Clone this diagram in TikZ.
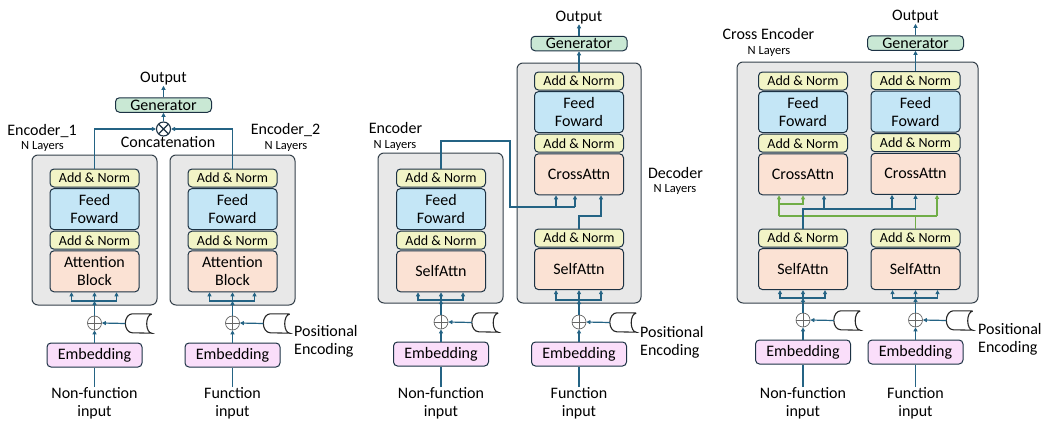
\documentclass[tikz,border=0pt]{standalone}
\usepackage{fontspec}
\setmainfont{Carlito}
\usetikzlibrary{positioning,arrows.meta}

\definecolor{linkblue}{RGB}{36,99,132}
\definecolor{edge}{RGB}{28,50,68}
\definecolor{layeredge}{RGB}{52,64,74}
\definecolor{layergray}{RGB}{232,232,232}
\definecolor{normyellow}{RGB}{242,244,198}
\definecolor{ffblue}{RGB}{196,230,246}
\definecolor{attnpeach}{RGB}{251,226,212}
\definecolor{embpink}{RGB}{250,222,250}
\definecolor{gengreen}{RGB}{201,232,212}
\definecolor{crossgreen}{RGB}{112,173,71}

\tikzset{
blk/.style={draw=edge, line width=1pt, rounded corners=4pt, minimum width=89pt, inner sep=0pt, align=center, font=\fontsize{16}{18}\selectfont},
addnorm/.style={blk, fill=normyellow, minimum height=18pt, font=\fontsize{14}{15}\selectfont},
ff/.style={blk, fill=ffblue, minimum height=41pt},
attn/.style={blk, fill=attnpeach, minimum height=41pt},
embed/.style={blk, fill=embpink, minimum width=95pt, minimum height=24pt},
gen/.style={blk, fill=gengreen, minimum width=96pt, minimum height=14.5pt},
layers/.style={draw=layeredge, line width=1pt, fill=layergray, rounded corners=6pt, inner sep=0pt},
addop/.style={circle, draw=black!60, line width=0.7pt, fill=white, minimum size=14pt, inner sep=0pt,
  path picture={\draw[black!60, line width=0.7pt] (path picture bounding box.north) -- (path picture bounding box.south) (path picture bounding box.west) -- (path picture bounding box.east);}},
catop/.style={circle, draw=edge, line width=1.1pt, fill=white, minimum size=14pt, inner sep=0pt,
  path picture={\draw[edge, line width=1.1pt] (path picture bounding box.north west) -- (path picture bounding box.south east) (path picture bounding box.north east) -- (path picture bounding box.south west);}},
pe/.style={minimum width=26pt, minimum height=19pt, inner sep=0pt},
tape/.style={draw=black!85, line width=1.1pt, fill=white},
lbl/.style={font=\fontsize{16}{18}\selectfont, inner sep=0pt, align=center},
nl/.style={font=\fontsize{12.5}{14}\selectfont, inner sep=0pt},
conn/.style={draw=linkblue, line width=1.2pt},
arr/.style={conn, -{Triangle[length=4pt,width=4pt]}},
garr/.style={arr, draw=crossgreen}
}

% positional encoding symbol
\newcommand{\posenc}[2]{%
  \node[pe] (#1) at (#2) {};
  \draw[tape] (#1.north east) -- ([xshift=7pt]#1.north west)
    arc[start angle=90, end angle=270, x radius=7pt, y radius=9.5pt]
    -- (#1.south east)
    arc[start angle=270, end angle=90, x radius=5pt, y radius=9.5pt];
}
% add & norm / feed foward / add & norm / attention
\newcommand{\block}[3]{%
  \node[addnorm] (#1a) at (#2) {Add \& Norm};
  \node[ff, below=0.6pt of #1a] (#1f) {Feed\\Foward};
  \node[addnorm, below=0.6pt of #1f] (#1n) {Add \& Norm};
  \node[attn, below=0.6pt of #1n] (#1s) {#3};
}
% input, embedding, adder and the three-way feed
\newcommand{\inputstage}[5]{%
  \node[addop] (#1add) at (#2,#3) {};
  \node[embed] (#1emb) at (#2,#3+32) {Embedding};
  \posenc{#1pe}{#2+44,#3+0.5}
  \node[lbl, anchor=north] (#1in) at (#2,387) {#4};
  \coordinate (#1j) at (#2,#3-22);
  \draw[conn] (#1in.north) -- (#1emb.south);
  \draw[arr] (#1emb.north) -- (#1add.south);
  \draw[arr] (#1pe.west) -- (#1add.east);
  \draw[arr] (#1add.north) -- (#1j);
  \foreach \dx in {-23,0,22} \draw[arr] (#1j) -| ([xshift=\dx pt]#5.south);
}

\begin{document}
\begin{tikzpicture}[x=1pt, y=-1pt]
\useasboundingbox (0,0) rectangle (1044,423);

% two encoders, concatenated
\node[layers, minimum width=125pt, minimum height=150pt] (lay1) at (94.5,230) {};
\node[layers, minimum width=125pt, minimum height=150pt] (lay2) at (232.5,230) {};
\block{a}{94.5,178}{Attention\\Block}
\block{b}{232.5,178}{Attention\\Block}
\inputstage{u}{94.5}{323}{Non-function\\input}{as}
\inputstage{v}{232.5}{323}{Function\\input}{bs}
\node[catop] (cat) at (163.5,129) {};
\node[gen] (gen1) at (163.5,105) {Generator};
\node[lbl, above=11.5pt of gen1] (out1) {Output};
\draw[arr] (aa.north) |- (cat.west);
\draw[arr] (ba.north) |- (cat.east);
\draw[arr] (cat.north) -- (gen1.south);
\draw[arr] (gen1.north) -- (out1.south);
\node[lbl, anchor=base] (catlbl) at (168,147) {Concatenation};
\node[lbl, anchor=base] (enc1lbl) at (42,135) {Encoder\_1};
\node[nl, anchor=base] (enc1n) at (42.5,149.5) {N Layers};
\node[lbl, anchor=base] (enc2lbl) at (285.5,134) {Encoder\_2};
\node[nl, anchor=base] (enc2n) at (286,149.5) {N Layers};
\node[lbl, anchor=west, align=left] (pos1) at (294,341) {Positional\\Encoding};

% encoder - decoder
\node[layers, minimum width=125pt, minimum height=150pt] (lay3) at (440.5,228) {};
\node[layers, minimum width=124pt, minimum height=240pt] (lay4) at (579,183) {};
\block{p}{441,178}{SelfAttn}
\block{d}{579,81}{CrossAttn}
\node[addnorm] (dl) at (579,238) {Add \& Norm};
\node[attn, below=0.6pt of dl] (dls) {SelfAttn};
\inputstage{w}{441}{322}{Non-function\\input}{ps}
\inputstage{x}{579}{322}{Function\\input}{dls}
\node[gen] (gen2) at (579,43.5) {Generator};
\node[lbl, above=11.5pt of gen2] (out2) {Output};
\draw[arr] (da.north) -- (gen2.south);
\draw[arr] (gen2.north) -- (out2.south);
\coordinate (k1) at (556,207);
\coordinate (k2) at (575,207);
\coordinate (q1) at (601,216);
\draw[conn] (pa.north) |- (510,141) |- (k2);
\draw[arr] (k1) -- (k1 |- ds.south);
\draw[arr] (k2) -- (k2 |- ds.south);
\draw[arr] (dl.north) |- (q1) -- (q1 |- ds.south);
\node[lbl, anchor=base] (enclbl) at (395.5,133) {Encoder};
\node[nl, anchor=base] (encn) at (395,148) {N Layers};
\node[lbl, anchor=base] (declbl) at (675.5,178) {Decoder};
\node[nl, anchor=base] (decn) at (675,192.5) {N Layers};
\node[lbl, anchor=west, align=left] (pos2) at (640,342) {Positional\\Encoding};

% cross encoder
\node[layers, minimum width=241pt, minimum height=241pt] (lay5) at (857.5,182.5) {};
\block{l}{803,81}{CrossAttn}
\block{r}{915.5,80.5}{CrossAttn}
\node[addnorm] (ll) at (803,238) {Add \& Norm};
\node[attn, below=0.6pt of ll] (lls) {SelfAttn};
\node[addnorm] (rl) at (915.5,238) {Add \& Norm};
\node[attn, below=0.6pt of rl] (rls) {SelfAttn};
\inputstage{y}{803}{320}{Non-function\\input}{lls}
\inputstage{z}{915.5}{320}{Function\\input}{rls}
\node[gen] (gen3) at (915.5,43) {Generator};
\node[lbl, above=11.5pt of gen3] (out3) {Output};
\draw[arr] (ra.north) -- (gen3.south);
\draw[arr] (gen3.north) -- (out3.south);
\coordinate (gl) at (779,216);
\coordinate (gr) at (937,216);
\coordinate (gm) at (779,204);
\draw[conn, draw=crossgreen] (rl.north) |- (gl);
\draw[conn, draw=crossgreen] (gl) -- (gr);
\draw[garr] (gl) -- (gl |- ls.south);
\draw[garr] (gr) -- (gr |- rs.south);
\draw[garr] (gm) -| (ls.south);
\coordinate (bl) at (824,209);
\coordinate (br1) at (892,209);
\coordinate (br2) at (915.5,209);
\draw[conn] (ll.north) |- (br2);
\draw[arr] (bl) -- (bl |- ls.south);
\draw[arr] (br1) -- (br1 |- rs.south);
\draw[arr] (br2) -- (rs.south);
\node[lbl, anchor=base] (crosslbl) at (768.5,39) {Cross Encoder};
\node[nl, anchor=base] (crossn) at (769,54) {N Layers};
\node[lbl, anchor=west, align=left] (pos3) at (978,339) {Positional\\Encoding};
\end{tikzpicture}
\end{document}
